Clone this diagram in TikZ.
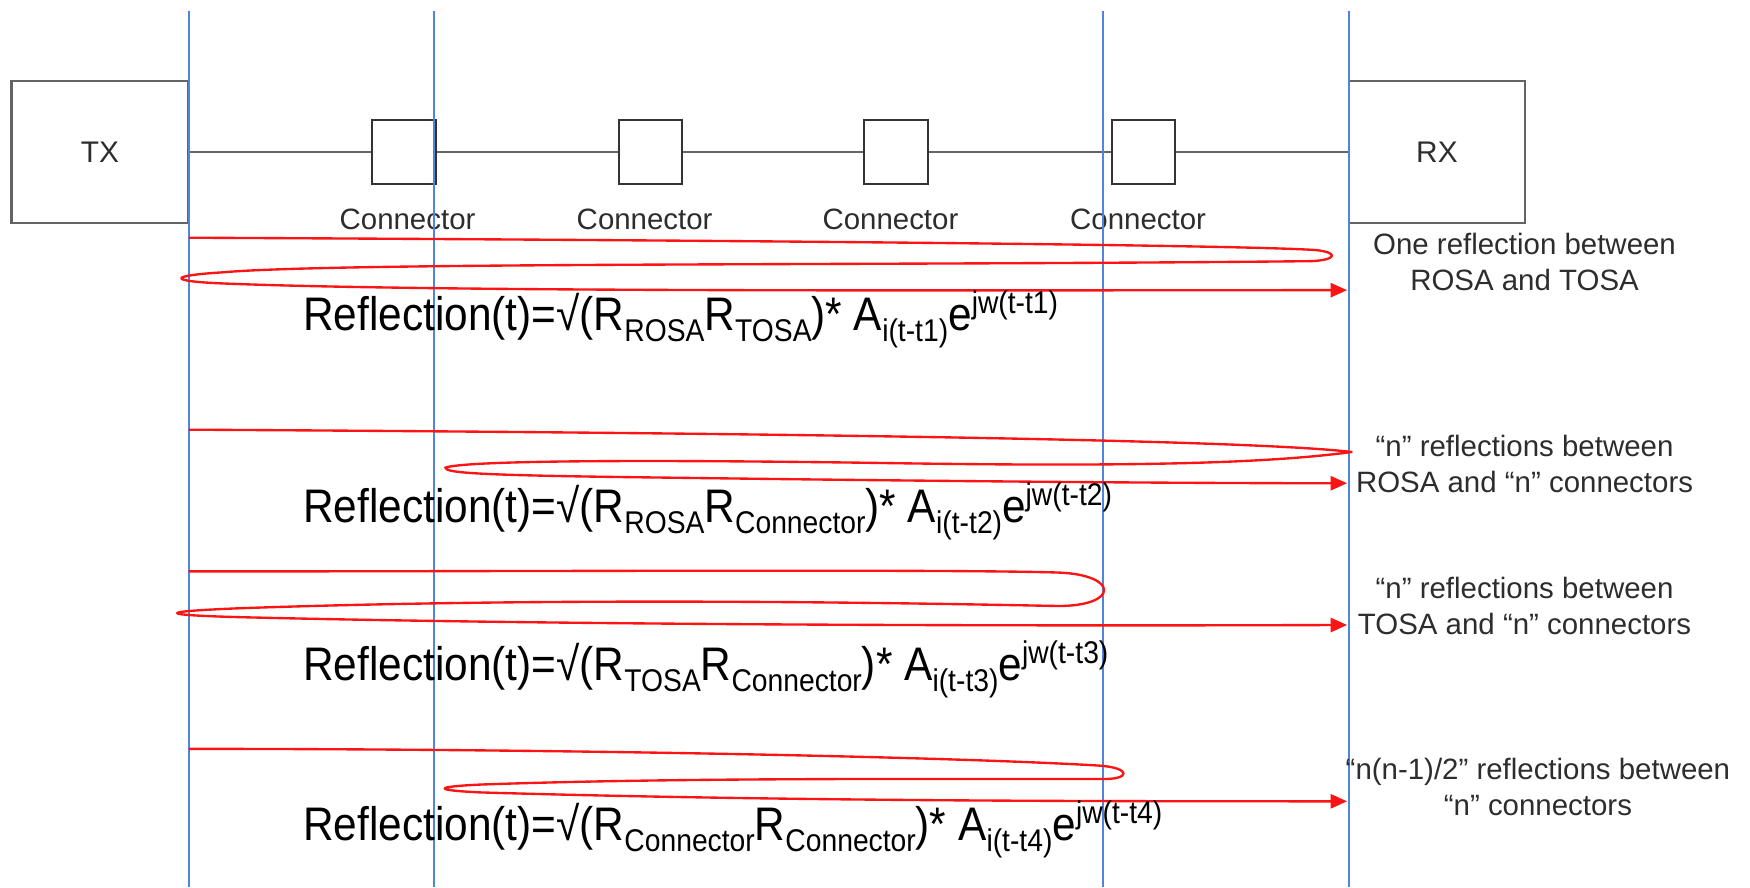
\documentclass[tikz,border=0pt]{standalone}
\usepackage{fontspec}
\setmainfont{Liberation Sans}
\newfontfamily\eqfont[FakeStretch=0.9]{Liberation Sans}
\usetikzlibrary{arrows.meta,positioning}
\definecolor{guideblue}{RGB}{82,132,220}
\definecolor{bouncered}{RGB}{250,20,20}
\definecolor{boxgray}{RGB}{100,100,100}
\definecolor{txtgray}{RGB}{45,45,45}
\newcommand{\lowtext}[1]{\raisebox{-2.8pt}{\fontsize{8}{9}\selectfont #1}}
\newcommand{\hightext}[1]{\raisebox{4.4pt}{\fontsize{8}{9}\selectfont #1}}
\tikzset{
  guide/.style={draw=guideblue, line width=0.5pt},
  bounce/.style={draw=bouncered, line width=0.6pt, line join=round, -{Triangle[length=4.2pt, width=3.6pt]}},
  endbox/.style={draw=boxgray, line width=0.6pt, minimum width=1.58cm, minimum height=1.27cm, inner sep=0pt, text=txtgray, font=\fontsize{7.6}{9}\selectfont},
  conbox/.style={draw=black!80, line width=0.5pt, minimum size=0.57cm, inner sep=0pt},
  lbl/.style={text=txtgray, font=\fontsize{7.5}{9.1}\selectfont, align=center, inner sep=0pt},
  eqn/.style={anchor=base west, inner sep=0pt, font=\eqfont\fontsize{12}{14}\selectfont},
}

\begin{document}
\begin{tikzpicture}[x=0.01cm, y=-0.01cm]
  \useasboundingbox (0,0) rectangle (1568,795);

  % link: TX, connectors, RX
  \node[endbox] (tx) at (89.5,136) {TX};
  \node[endbox] (rx) at (1287.5,136) {RX};
  \node[conbox] (c1) at (362,136) {};
  \node[conbox, right=1.62cm of c1] (c2) {};
  \node[conbox, right=1.61cm of c2] (c3) {};
  \node[conbox, right=1.63cm of c3] (c4) {};
  \foreach \c/\dx in {c1/0.9pt, c2/-1.5pt, c3/-1.4pt, c4/-1.4pt}
    \node[lbl, below=0.21cm of \c, xshift=\dx] (\c lab) {Connector};
  \draw[draw=boxgray, line width=0.6pt] (tx) -- (c1) -- (c2) -- (c3) -- (c4) -- (rx);

  % reflection planes
  \foreach \gx/\gn in {169/a, 389/b, 988/c, 1209/d} {
    \coordinate (top\gn) at (\gx,10);
    \coordinate (bot\gn) at (\gx,795);
    \draw[guide] (top\gn) -- (bot\gn);
  }

  % ROSA <-> TOSA
  \coordinate (s1) at (169,213);
  \coordinate (e1) at (1207,260);
  \draw[bounce] (s1) .. controls (600,215) and (1100,219) .. (1178,224)
    .. controls (1200,226) and (1198,233) .. (1175,234)
    .. controls (800,238) and (300,235) .. (200,244)
    .. controls (150,247) and (150,252) .. (200,254)
    .. controls (400,262) and (900,260) .. (e1);
  \node[eqn] (f1) at (271,296) {Reflection(t)=\textsurd(R\lowtext{ROSA}R\lowtext{TOSA})* A\lowtext{i(t-t1)}e\hightext{jw(t-t1)}};
  \node[lbl] (n1) at (1366,235) {One reflection between\\ROSA and TOSA};

  % ROSA <-> connectors
  \coordinate (s2) at (169,385);
  \coordinate (e2) at (1207,433);
  \draw[bounce] (s2) .. controls (700,388) and (1120,394) .. (1211,405)
    .. controls (1130,416) and (1000,418) .. (800,415)
    .. controls (600,412) and (420,412) .. (399,419)
    .. controls (399,424) and (430,426) .. (600,428)
    .. controls (900,432) and (1100,433) .. (e2);
  \node[eqn] (f2) at (271,468) {Reflection(t)=\textsurd(R\lowtext{ROSA}R\lowtext{Connector})* A\lowtext{i(t-t2)}e\hightext{jw(t-t2)}};
  \node[lbl] (n2) at (1366,416) {“n” reflections between\\ROSA and “n” connectors};

  % TOSA <-> connectors
  \coordinate (s3) at (169,512);
  \coordinate (e3) at (1207,560);
  \draw[bounce] (s3) .. controls (500,512) and (850,510) .. (948,513)
    .. controls (1003,515) and (1003,543) .. (948,543)
    .. controls (800,540) and (500,535) .. (215,545)
    .. controls (140,548) and (140,551) .. (215,553)
    .. controls (500,560) and (900,561) .. (e3);
  \node[eqn] (f3) at (271,610) {Reflection(t)=\textsurd(R\lowtext{TOSA}R\lowtext{Connector})* A\lowtext{i(t-t3)}e\hightext{jw(t-t3)}};
  \node[lbl] (n3) at (1366,543) {“n” reflections between\\TOSA and “n” connectors};

  % connector <-> connector
  \coordinate (s4) at (169,671);
  \coordinate (e4) at (1207,718);
  \draw[bounce] (s4) .. controls (500,671) and (850,678) .. (985,686)
    .. controls (1014,688) and (1014,699) .. (985,698)
    .. controls (800,698) and (600,697) .. (430,703)
    .. controls (388,705) and (388,708) .. (430,710)
    .. controls (700,718) and (1000,718) .. (e4);
  \node[eqn] (f4) at (271,753) {Reflection(t)=\textsurd(R\lowtext{Connector}R\lowtext{Connector})* A\lowtext{i(t-t4)}e\hightext{jw(t-t4)}};
  \node[lbl] (n4) at (1378,705) {“n(n-1)/2” reflections between\\“n” connectors};
\end{tikzpicture}
\end{document}
